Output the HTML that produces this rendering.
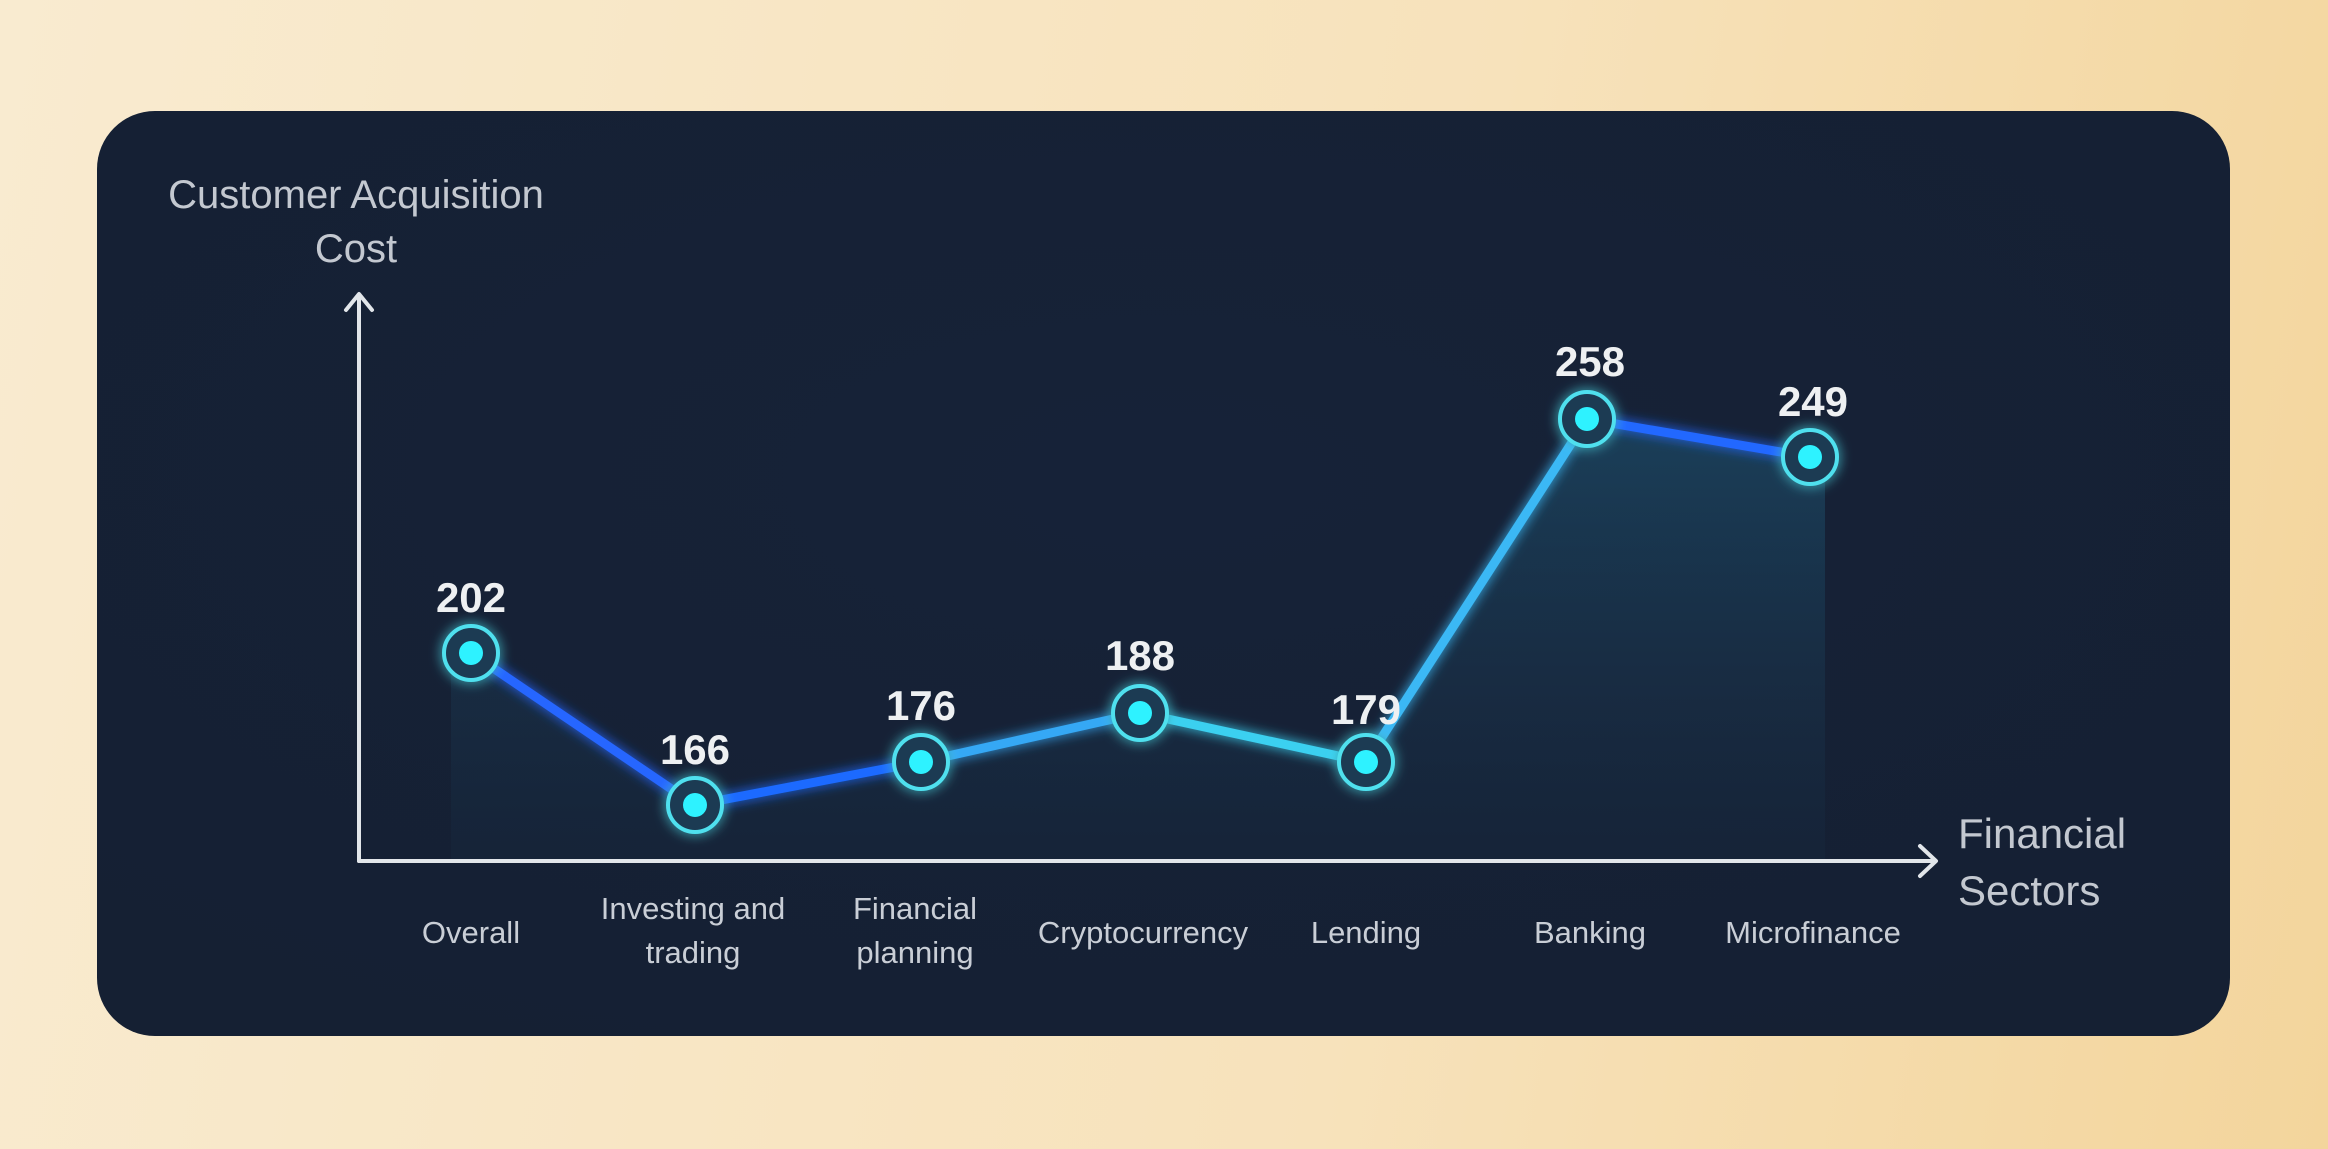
<!DOCTYPE html>
<html><head><meta charset="utf-8"><style>
html,body{margin:0;padding:0;width:2328px;height:1149px;overflow:hidden;background:linear-gradient(100deg,#f9ebd0 0%,#f7e2bb 60%,#f3d59c 100%);}
svg{display:block}
text{font-family:"Liberation Sans",sans-serif;}
</style></head><body>
<svg width="2328" height="1149" viewBox="0 0 2328 1149" xmlns="http://www.w3.org/2000/svg">
<defs>
<linearGradient id="area" x1="0" y1="0" x2="0" y2="1">
<stop offset="0" stop-color="#1c4a66" stop-opacity="0.75"/>
<stop offset="1" stop-color="#182a40" stop-opacity="0.3"/>
</linearGradient>
<radialGradient id="card" cx="0.5" cy="0.4" r="0.7">
<stop offset="0" stop-color="#162238"/><stop offset="1" stop-color="#152033"/>
</radialGradient>
<filter id="glow" x="-50%" y="-50%" width="200%" height="200%"><feGaussianBlur stdDeviation="6" result="b"/><feMerge><feMergeNode in="b"/><feMergeNode in="SourceGraphic"/></feMerge></filter>
</defs>
<rect x="97" y="111" width="2133" height="925" rx="58" fill="url(#card)"/>
<polygon points="451,653 471,653 695,805 921,762 1140,713 1366,762 1587,419 1810,457 1825,457 1825,861 451,861" fill="url(#area)"/>
<g stroke="#e2e6ea" stroke-width="4" fill="none" stroke-linecap="round" stroke-linejoin="round">
<line x1="359" y1="861" x2="359" y2="296"/>
<polyline points="346,310 359,294 372,310"/>
<line x1="359" y1="861" x2="1934" y2="861"/>
<polyline points="1920,846 1936,861 1920,876"/>
</g>
<g fill="none" stroke-width="9" stroke-linecap="round" filter="url(#glow)">
<line x1="471" y1="653" x2="695" y2="805" stroke="#2566ff"/>
<line x1="695" y1="805" x2="921" y2="762" stroke="#1f6bff"/>
<line x1="921" y1="762" x2="1140" y2="713" stroke="#34a8f5"/>
<line x1="1140" y1="713" x2="1366" y2="762" stroke="#3ad0f0"/>
<line x1="1366" y1="762" x2="1587" y2="419" stroke="#3ab8f5"/>
<line x1="1587" y1="419" x2="1810" y2="457" stroke="#2468ff"/>
</g>
<g filter="url(#glow)">
<g fill="#1a3a52" stroke="#4fe0ee" stroke-width="4">
<circle cx="471" cy="653" r="27"/><circle cx="695" cy="805" r="27"/><circle cx="921" cy="762" r="27"/><circle cx="1140" cy="713" r="27"/><circle cx="1366" cy="762" r="27"/><circle cx="1587" cy="419" r="27"/><circle cx="1810" cy="457" r="27"/>
</g>
<g fill="#2ef2ff">
<circle cx="471" cy="653" r="12"/><circle cx="695" cy="805" r="12"/><circle cx="921" cy="762" r="12"/><circle cx="1140" cy="713" r="12"/><circle cx="1366" cy="762" r="12"/><circle cx="1587" cy="419" r="12"/><circle cx="1810" cy="457" r="12"/>
</g>
</g>
<g fill="#eef0f2" font-size="42" font-weight="bold" text-anchor="middle">
<text x="471" y="612">202</text><text x="695" y="764">166</text><text x="921" y="720">176</text><text x="1140" y="670">188</text><text x="1366" y="724">179</text><text x="1590" y="376">258</text><text x="1813" y="416">249</text>
</g>
<g fill="#c9ced6" font-size="31" text-anchor="middle">
<text x="471" y="943">Overall</text>
<text x="693" y="919">Investing and</text><text x="693" y="963">trading</text>
<text x="915" y="919">Financial</text><text x="915" y="963">planning</text>
<text x="1143" y="943">Cryptocurrency</text>
<text x="1366" y="943">Lending</text>
<text x="1590" y="943">Banking</text>
<text x="1813" y="943">Microfinance</text>
</g>
<g fill="#c3c8d0" font-size="40" text-anchor="middle">
<text x="356" y="208">Customer Acquisition</text><text x="356" y="262">Cost</text>
</g>
<g fill="#c3c8d0" font-size="42">
<text x="1958" y="848">Financial</text><text x="1958" y="905">Sectors</text>
</g>
</svg>
</body></html>
